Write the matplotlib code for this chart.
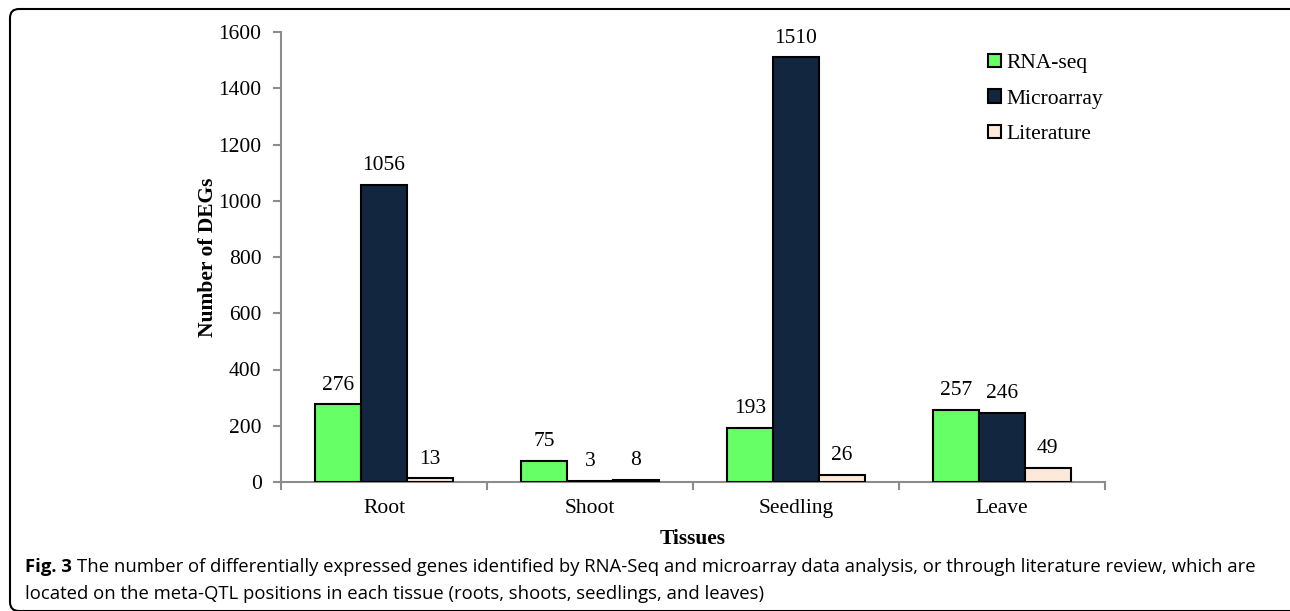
import matplotlib.pyplot as plt
import numpy as np
from matplotlib.patches import FancyBboxPatch

tissues = ["Root", "Shoot", "Seedling", "Leave"]
rna_seq = [276, 75, 193, 257]
microarray = [1056, 3, 1510, 246]
literature = [13, 8, 26, 49]
series_names = ["RNA-seq", "Microarray", "Literature"]
series_colors = ["#66ff66", "#12263f", "#fde9d9"]
y_ticks = [0, 200, 400, 600, 800, 1000, 1200, 1400, 1600]

W, H = 1290, 611
fig = plt.figure(figsize=(W / 100, H / 100), dpi=100)

serif = "Liberation Serif"
grey = "#8c8c8c"
fs = 15.5

ax = fig.add_axes([281 / W, 1 - 482 / H, (1105 - 281) / W, (482 - 32) / H])
ax.spines["top"].set_visible(False)
ax.spines["right"].set_visible(False)
ax.spines["left"].set_color(grey)
ax.spines["bottom"].set_color(grey)
ax.spines["left"].set_linewidth(1.5)
ax.spines["bottom"].set_linewidth(1.5)

x = np.arange(len(tissues))
bw = 0.222
for i, (vals, name, col) in enumerate(zip([rna_seq, microarray, literature], series_names, series_colors)):
    pos = x + (i - 1) * bw
    ax.bar(pos, vals, width=bw, color=col, edgecolor="black", linewidth=1.5,
           label=name, zorder=3)
    for px, v in zip(pos, vals):
        ax.annotate(str(v), (px, v), xytext=(0, 7), textcoords="offset points",
                    ha="center", va="bottom", fontsize=fs, family=serif)

ax.set_xlim(-0.5, len(tissues) - 0.5)
ax.set_ylim(0, 1600)
ax.set_yticks(y_ticks)
ax.set_xticks(x)
ax.set_xticklabels(tissues)
ax.set_xticks(np.arange(len(tissues) + 1) - 0.5, minor=True)
ax.tick_params(axis="x", which="major", length=0, pad=12)
ax.tick_params(axis="x", which="minor", length=6, width=1.5, color=grey)
ax.tick_params(axis="y", length=6, width=1.5, color=grey, pad=8)
for lab in ax.get_xticklabels() + ax.get_yticklabels():
    lab.set_family(serif)
    lab.set_fontsize(fs)

ax.set_ylabel("Number of DEGs", family=serif, fontsize=fs, fontweight="bold", labelpad=0)
ax.set_xlabel("Tissues", family=serif, fontsize=fs, fontweight="bold", labelpad=8)

leg = ax.legend(loc="upper left", bbox_to_anchor=(0.835, 0.995), frameon=False,
                prop={"family": serif, "size": fs}, handlelength=0.6, handleheight=0.6,
                handletextpad=0.25, labelspacing=0.75)

# border and caption, drawn in pixel coordinates
ov = fig.add_axes([0, 0, 1, 1], zorder=-1)
ov.set_xlim(0, W)
ov.set_ylim(H, 0)
ov.axis("off")
ov.add_patch(FancyBboxPatch((10, 9), 1300, 602, boxstyle="round,pad=0,rounding_size=9",
                            fill=False, edgecolor="black", linewidth=1.5, clip_on=False))

cap_font = "Open Sans"
cfs = 13.3
t = fig.text(25 / W, 1 - 567 / H, "Fig. 3", fontsize=cfs, fontweight="bold",
             family=cap_font, va="center", ha="left")
fig.canvas.draw()
bb = t.get_window_extent()
fig.text(bb.x1 / W + 5 / W, 1 - 567 / H,
         "The number of differentially expressed genes identified by RNA-Seq and microarray data analysis, or through literature review, which are",
         fontsize=cfs, family=cap_font, va="center", ha="left")
fig.text(25 / W, 1 - 594 / H,
         "located on the meta-QTL positions in each tissue (roots, shoots, seedlings, and leaves)",
         fontsize=cfs, family=cap_font, va="center", ha="left")

fig.savefig("out.png", dpi=100)
